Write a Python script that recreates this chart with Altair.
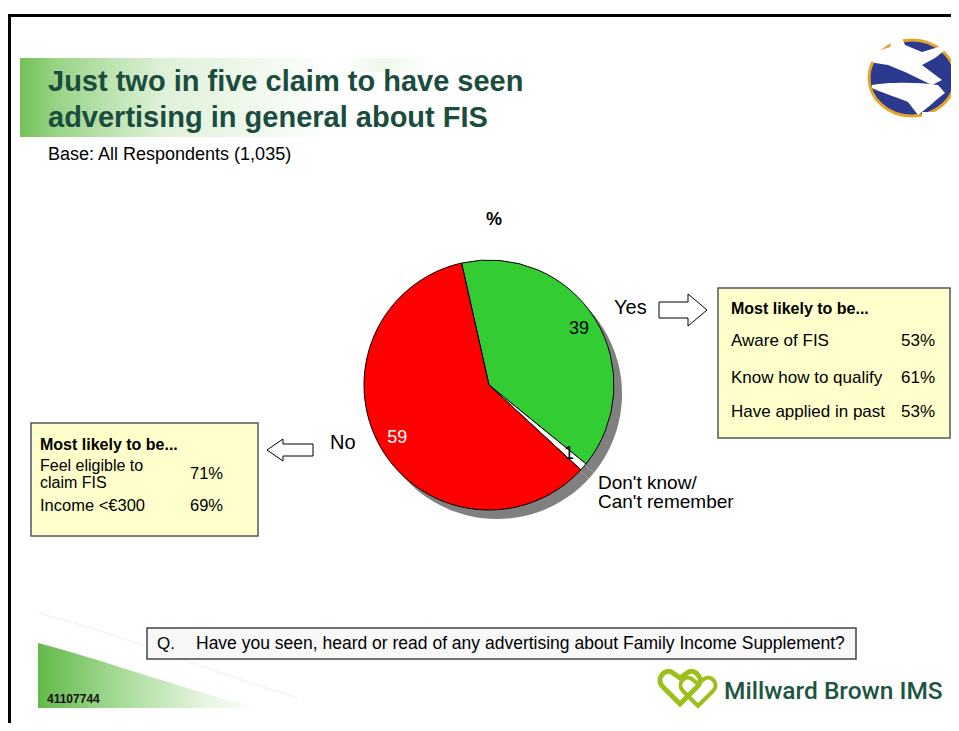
import math
import altair as alt
import pandas as pd

FONT = "Liberation Sans"

# ---- data ----
categories = ["Yes", "Don't know/Can't remember", "No"]
values = [39, 1, 59]
slice_colors = ["#33cc33", "#ffffff", "#ff0000"]
label_colors = ["#000000", "#000000", "#ffffff"]

yes_items = ["Aware of FIS", "Know how to qualify", "Have applied in past"]
yes_pcts = ["53%", "61%", "53%"]
no_items = [["Feel eligible to", "claim FIS"], ["Income <€300"]]
no_pcts = ["71%", "69%"]

title_lines = ["Just two in five claim to have seen", "advertising in general about FIS"]
base_text = "Base: All Respondents (1,035)"
question = "Have you seen, heard or read of any advertising about Family Income Supplement?"

pie_df = pd.DataFrame({
    "category": categories,
    "value": values,
    "order": list(range(len(values))),
    "fill": slice_colors,
    "label": [str(v) for v in values],
    "tcolor": label_colors,
})

dummy = alt.Data(values=[{"a": 1}])


def T(s, x, y, size=15, weight="normal", color="#000000", align="left", font=FONT, lh=None):
    kw = dict(text=s, fontSize=size, fontWeight=weight, color=color, align=align,
              baseline="middle", font=font)
    if lh is not None:
        kw["lineHeight"] = lh
    return alt.Chart(dummy).mark_text(**kw).encode(x=alt.value(x), y=alt.value(y))


def P(path, fill="transparent", stroke="transparent", sw=1):
    return alt.Chart(dummy).mark_point(
        shape=path, size=4, filled=True, fill=fill, stroke=stroke,
        strokeWidth=sw, opacity=1
    ).encode(x=alt.value(0), y=alt.value(0))


def R(x, x2, y, y2, fill, stroke="transparent", sw=1):
    return alt.Chart(dummy).mark_rect(
        fill=fill, stroke=stroke, strokeWidth=sw, opacity=1
    ).encode(x=alt.value(x), x2=alt.value(x2), y=alt.value(y), y2=alt.value(y2))


def hgrad(stops):
    return alt.Gradient(
        gradient="linear",
        stops=[alt.GradientStop(offset=o, color=c) for o, c in stops],
        x1=0, x2=1, y1=0, y2=0,
    )


layers = []

# frame
layers.append(R(0, 943, 6, 9, "#000000"))
layers.append(R(0, 3, 6, 715, "#000000"))

# title band gradient
layers.append(R(12, 330, 50, 129, hgrad([(0, "#72c157"), (0.12, "#9ad488"), (0.45, "#dff1d8"), (1, "#ffffff")])))
layers.append(R(330, 420, 50, 64, hgrad([(0, "#ffffff"), (0.5, "#eef8ea"), (1, "#ffffff")])))

# bottom-left decoration
layers.append(P("M30,605 C110,625 190,660 290,690", stroke="#efefef", sw=1))
layers.append(P("M30,635 C90,650 170,680 252,700 L30,700 Z",
                fill=hgrad([(0, "#62b94a"), (0.35, "#a3d993"), (0.75, "#e6f5e0"), (1, "#ffffff")])))

# title texts
layers.append(T(title_lines[0], 40, 74, size=29, weight="bold", color="#1b4d3e"))
layers.append(T(title_lines[1], 40, 110, size=29, weight="bold", color="#1b4d3e"))
layers.append(T(base_text, 40, 147, size=18))

# dove logo
layers.append(P("M861,70 a43,38 0 1,0 86,0 a43,38 0 1,0 -86,0 Z", fill="#2b3a8e", stroke="#e0a52a", sw=3))
layers.append(P("M857,50 L867,44 L882,39 L889,19 L897,37 L914,44 L947,34 L927,50 L914,57 "
                "L934,72 L924,77 L897,64 L880,57 L867,55 Z", fill="#ffffff"))
layers.append(P("M864,77 C880,74 910,74 930,77 L937,85 C930,90 922,98 910,107 L900,94 "
                "C885,88 872,84 864,80 Z", fill="#ffffff"))
layers.append(P("M914,104 L951,104 L951,120 L914,120 Z", fill="#ffffff"))

# pie
cx, cy, rad = 481, 377, 125
start = math.radians(-12.7)
theta_enc = alt.Theta("value:Q", stack=True, scale=alt.Scale(range=[start, start + 2 * math.pi]))

shadow = alt.Chart(pie_df).mark_arc(outerRadius=rad, fill="#808080").encode(
    theta=theta_enc, order=alt.Order("order:Q"), x=alt.value(cx + 8), y=alt.value(cy + 9)
)
pie = alt.Chart(pie_df).mark_arc(outerRadius=rad, stroke="#000000", strokeWidth=1).encode(
    theta=theta_enc,
    fill=alt.Fill("fill:N", scale=None),
    order=alt.Order("order:Q"),
    x=alt.value(cx), y=alt.value(cy),
)
pie_labels = alt.Chart(pie_df).mark_text(radius=106, fontSize=18, font=FONT).encode(
    theta=theta_enc,
    text="label:N",
    color=alt.Color("tcolor:N", scale=None),
    order=alt.Order("order:Q"),
    x=alt.value(cx), y=alt.value(cy),
)
layers += [shadow, pie, pie_labels]

layers.append(T("%", 478, 212, size=18, weight="bold"))
layers.append(T(categories[0], 606, 300, size=20))
layers.append(T(categories[2], 322, 435, size=20))
layers.append(T(["Don't know/", "Can't remember"], 590, 475, size=19, lh=19))

# arrows
layers.append(P("M651,294 L680,294 L680,286 L699,302 L680,318 L680,310 L651,310 Z", fill="#ffffff", stroke="#000000"))
layers.append(P("M259,442 L275,431 L275,436 L305,436 L305,448 L275,448 L275,453 Z", fill="#ffffff", stroke="#000000"))

# right box
layers.append(R(710, 942, 280, 430, "#ffffcc", stroke="#555555", sw=1.5))
layers.append(T("Most likely to be...", 723, 301, size=16, weight="bold"))
for i, (item, pct) in enumerate(zip(yes_items, yes_pcts)):
    yy = [333, 370, 404][i]
    layers.append(T(item, 723, yy, size=17))
    layers.append(T(pct, 927, yy, size=17, align="right"))

# left box
layers.append(R(23, 250, 415, 528, "#ffffcc", stroke="#555555", sw=1.5))
layers.append(T("Most likely to be...", 32, 437, size=16, weight="bold"))
layers.append(T(no_items[0], 32, 458, size=16, lh=16.5))
layers.append(T(no_pcts[0], 182, 466, size=16.5))
layers.append(T(no_items[1][0], 32, 498, size=16.5))
layers.append(T(no_pcts[1], 182, 498, size=16.5))

# question box
layers.append(R(139, 848, 620, 651, "#f8f8f8", stroke="#444444", sw=1.5))
layers.append(T("Q.", 149, 636, size=17))
layers.append(T(question, 188, 636, size=17.5))

# footer
layers.append(T("41107744", 39, 691, size=12, weight="bold", color="#111111"))
layers.append(P("M672,696 L655,679 C647,671 657,659 665,665 L672,670 L679,665 C687,659 697,671 689,679 Z",
                fill="transparent", stroke="#9cbf1a", sw=5))
layers.append(P("M690,698 L675,683 C668,676 677,666 684,671 L690,676 L696,671 C703,666 712,676 705,683 Z",
                fill="transparent", stroke="#9cbf1a", sw=4))
layers.append(T("Millward Brown IMS", 716, 684, size=24.5, weight=500, color="#1c5640", font="Roboto"))

chart = alt.layer(*layers).properties(
    width=943, height=715, padding=0,
    autosize=alt.AutoSizeParams(type="none"),
).configure_view(stroke=None)

chart.save("out.html", embed_options={"renderer": "svg", "actions": False})
